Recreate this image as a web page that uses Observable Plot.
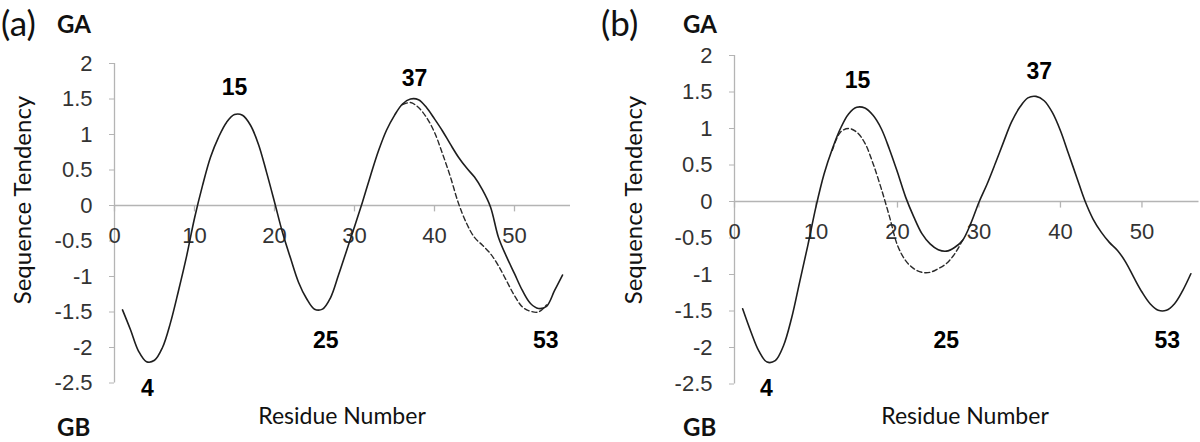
<!DOCTYPE html>
<html>
<head>
<meta charset="utf-8">
<script src="https://cdn.jsdelivr.net/npm/d3@7"></script>
<script src="https://cdn.jsdelivr.net/npm/@observablehq/plot@0.6"></script>
<style>
  html, body { margin: 0; padding: 0; background: #fff; }
  #wrap { position: relative; width: 1200px; height: 442px; overflow: hidden; }
  .panel { position: absolute; top: 0; width: 600px; height: 442px; }
  .txt { position: absolute; white-space: nowrap; font-family: Lato, "Open Sans", sans-serif; color: #111; line-height: 1; }
  .tag { font-size: 35px; font-weight: 400; line-height: 1.25; }
  .g { font-size: 24px; font-weight: 700; }
  .xt { font-size: 23px; }
  .yt { font-size: 24px; transform: translate(-50%, -50%) rotate(-90deg); }
</style>
</head>
<body>
<div id="wrap"></div>
<script>
// ---- data ----
const residues = [1,2,3,4,5,6,7,8,9,10,11,12,13,14,15,16,17,18,19,20,21,22,23,24,25,26,27,28,29,30,
  31,32,33,34,35,36,37,38,39,40,41,42,43,44,45,46,47,48,49,50,51,52,53,54,55,56];

const solidA = [-1.47,-1.75,-2.05,-2.2,-2.18,-2.0,-1.65,-1.2,-0.72,-0.18,0.28,0.68,0.96,1.17,1.28,1.27,1.13,0.86,0.47,0.05,
  -0.38,-0.74,-1.08,-1.31,-1.46,-1.46,-1.3,-0.98,-0.64,-0.3,0.05,0.42,0.77,1.06,1.27,1.43,1.5,1.49,1.38,1.22,
  1.05,0.86,0.68,0.53,0.4,0.22,-0.02,-0.45,-0.72,-0.96,-1.2,-1.38,-1.45,-1.42,-1.2,-0.98];

const dashedResA = [36,37,38,39,40,41,42,43,44,45,46,47,48,49,50,51,52,53,54];
const dashedA = [1.42,1.45,1.38,1.24,1.03,0.73,0.4,0.03,-0.25,-0.45,-0.56,-0.68,-0.85,-1.06,-1.27,-1.43,-1.49,-1.5,-1.4];

const solidB = [-1.47,-1.78,-2.05,-2.2,-2.18,-1.98,-1.6,-1.1,-0.6,-0.07,0.38,0.72,1.0,1.2,1.29,1.28,1.18,1.0,0.72,0.4,
  0.06,-0.21,-0.44,-0.58,-0.66,-0.68,-0.63,-0.53,-0.3,-0.01,0.24,0.52,0.81,1.09,1.29,1.42,1.44,1.38,1.22,0.97,
  0.65,0.33,0.01,-0.24,-0.42,-0.56,-0.67,-0.83,-1.04,-1.24,-1.4,-1.49,-1.49,-1.4,-1.22,-0.99];

const dashedResB = [12,13,14,15,16,17,18,19,20,21,22,23,24,25,26,27,28];
const dashedB = [0.7,0.95,1.0,0.95,0.8,0.52,0.18,-0.2,-0.6,-0.81,-0.92,-0.97,-0.97,-0.92,-0.85,-0.72,-0.53];

const xTicks = [0,10,20,30,40,50];
const yTicks = [2,1.5,1,0.5,0,-0.5,-1,-1.5,-2,-2.5];

// annotation anchors (residue, tendency value)
const peakTextA = ["15","37","4","25","53"];
const peakResA  = [15,37.5,4.1,26.4,53.9];
const peakValA  = [1.66,1.79,-2.58,-1.9,-1.9];
const peakTextB = ["15","37","4","25","53"];
const peakResB  = [15.1,37.4,3.9,26,53.1];
const peakValB  = [1.66,1.78,-2.56,-1.9,-1.9];

// ---- build ----
const zip = (xs, ys) => xs.map((x, i) => ({res: x, val: ys[i]}));
const AX = "#b4b4b4";

function panel({solid, dashedRes, dashed, pText, pRes, pVal, mLeft, mRight, mTop, mBottom}) {
  const lbls = pText.map((t, i) => ({t, res: pRes[i], val: pVal[i]}));
  return Plot.plot({
    width: 600, height: 442,
    marginLeft: mLeft, marginRight: mRight, marginTop: mTop, marginBottom: mBottom,
    x: {domain: [0, 57], axis: null},
    y: {domain: [-2.5, 2], axis: null},
    style: {fontFamily: "'Liberation Sans', Arial, sans-serif", background: "transparent", overflow: "visible"},
    marks: [
      Plot.ruleY([0], {stroke: AX, strokeWidth: 1.3}),
      Plot.ruleX([0], {y1: -2.5, y2: 2, stroke: AX, strokeWidth: 1.3}),
      Plot.axisY(yTicks, {anchor: "left", label: null, tickSize: 5, tickPadding: 17, stroke: AX, fill: "#333", fontSize: 22, tickFormat: d => String(d)}),
      Plot.ruleX(xTicks, {y1: 0, y2: -0.09, stroke: AX, strokeWidth: 1.3}),
      Plot.text(xTicks, {x: d => d, y: 0, dy: 30, text: d => String(d), fontSize: 22, fill: "#333"}),
      Plot.line(zip(dashedRes, dashed), {x: "res", y: "val", curve: "catmull-rom", stroke: "#2a2a2a", strokeWidth: 1.4, strokeDasharray: "5,3"}),
      Plot.line(zip(residues, solid), {x: "res", y: "val", curve: "catmull-rom", stroke: "#1e1e1e", strokeWidth: 1.6}),
      Plot.text(lbls, {x: "res", y: "val", text: "t", fontSize: 23, fontWeight: "bold", fill: "#000"})
    ]
  });
}

const wrap = document.getElementById("wrap");
const pa = panel({solid: solidA, dashedRes: dashedResA, dashed: dashedA, pText: peakTextA, pRes: peakResA, pVal: peakValA,
  mLeft: 114, mRight: 30, mTop: 63, mBottom: 59.5});
const pb = panel({solid: solidB, dashedRes: dashedResB, dashed: dashedB, pText: peakTextB, pRes: peakResB, pVal: peakValB,
  mLeft: 134, mRight: 1.5, mTop: 55, mBottom: 58.5});
[pa, pb].forEach((svg, i) => {
  const d = document.createElement("div");
  d.className = "panel";
  d.style.left = (i * 600) + "px";
  d.appendChild(svg);
  wrap.appendChild(d);
});

function addText(cls, text, left, top, extra) {
  const e = document.createElement("div");
  e.className = "txt " + cls;
  e.textContent = text;
  e.style.left = left + "px";
  e.style.top = top + "px";
  if (extra) Object.assign(e.style, extra);
  wrap.appendChild(e);
}
addText("tag", "(a)", 1, 1);
addText("g", "GA", 57, 12);
addText("g", "GB", 57, 415);
addText("xt", "Residue Number", 342, 415, {transform: "translate(-50%, -50%)"});
addText("yt", "Sequence Tendency", 22, 200);

addText("tag", "(b)", 601, 1);
addText("g", "GA", 683, 12);
addText("g", "GB", 683, 415);
addText("xt", "Residue Number", 965, 415, {transform: "translate(-50%, -50%)"});
addText("yt", "Sequence Tendency", 633, 200);
</script>
</body>
</html>
